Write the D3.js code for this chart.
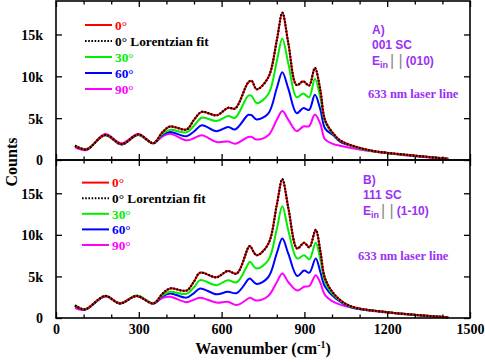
<!DOCTYPE html>
<html lang="en">
<head>
<meta charset="UTF-8">
<title>Raman spectra</title>
<style>
  body { margin: 0; background: #fff; }
  svg { display: block; }
  .tick text { font-family: "Liberation Serif", "Times New Roman", serif; font-weight: bold; font-size: 14px; fill: #000; }
  .domain { display: none; }
  .tick line { stroke: #000; stroke-width: 1.3; }
</style>
</head>
<body>
<svg id="chart" width="485" height="362"></svg>
<script src="https://d3js.org/d3.v7.min.js"></script>
<script>
// ---- data (counts in thousands) ----
const waveA = [69, 111, 178, 238, 298, 353, 385, 413, 473, 500, 528, 582, 624, 649, 697, 709, 727, 769, 800, 820, 842, 872, 896, 917, 938, 958, 975, 1005, 1029, 1089, 1150, 1270, 1421];
const redA     = [1.7, 1.28, 3.0, 1.9, 3.05, 2.0, 3.3, 4.0, 3.65, 4.8, 5.75, 5.35, 6.25, 6.15, 9.3, 9.45, 8.45, 9.85, 14.3, 17.6, 13.9, 8.95, 9.4, 8.9, 11.0, 8.3, 4.75, 3.15, 2.35, 1.55, 1.08, 0.62, 0.15];
const fitA     = [1.7, 1.28, 3.0, 1.9, 3.05, 2.0, 3.3, 4.0, 3.65, 4.8, 5.75, 5.35, 6.25, 6.15, 9.3, 9.45, 8.45, 9.85, 14.3, 17.6, 13.9, 8.95, 9.4, 8.9, 11.0, 8.3, 4.75, 3.15, 2.35, 1.55, 1.08, 0.62, 0.12];
const greenA   = [1.75, 1.3, 2.95, 1.9, 3.0, 2.0, 3.1, 3.6, 3.3, 4.1, 5.05, 4.65, 5.25, 5.05, 7.7, 7.65, 6.8, 7.85, 11.8, 14.5, 11.5, 7.5, 7.95, 7.5, 9.7, 7.4, 4.55, 3.05, 2.3, 1.5, 1.05, 0.6, 0.15];
const blueA    = [1.65, 1.25, 2.95, 1.85, 3.0, 2.0, 3.0, 3.35, 2.85, 3.4, 4.15, 3.45, 3.95, 3.65, 5.4, 5.35, 4.85, 5.55, 8.6, 10.5, 8.5, 5.6, 6.2, 6.0, 7.8, 6.0, 3.75, 2.95, 2.2, 1.5, 1.05, 0.6, 0.15];
const magentaA = [1.5, 1.2, 3.1, 2.0, 3.1, 2.0, 2.8, 3.15, 2.35, 2.6, 2.95, 2.15, 2.2, 1.95, 2.75, 2.75, 2.45, 2.95, 4.8, 5.85, 4.8, 3.45, 4.0, 4.05, 5.45, 4.3, 2.45, 1.9, 1.7, 1.3, 1.0, 0.55, 0.15];

const waveB = [69, 105, 178, 232, 292, 353, 385, 413, 473, 500, 522, 582, 622, 655, 697, 703, 727, 769, 800, 820, 842, 874, 899, 918, 941, 958, 975, 1011, 1065, 1186, 1421];
const redB     = [1.5, 1.05, 2.65, 1.75, 2.65, 1.75, 2.9, 3.55, 3.3, 4.4, 5.45, 4.9, 5.65, 5.35, 8.5, 8.65, 7.55, 8.9, 13.6, 16.7, 13.2, 8.35, 9.05, 8.5, 10.6, 8.0, 4.75, 2.75, 1.45, 0.75, 0.08];
const fitB     = [1.5, 1.05, 2.65, 1.75, 2.65, 1.75, 2.9, 3.55, 3.3, 4.4, 5.45, 4.9, 5.65, 5.35, 8.5, 8.65, 7.55, 8.9, 13.6, 16.7, 13.2, 8.35, 9.05, 8.5, 10.6, 8.0, 4.75, 2.75, 1.45, 0.75, 0.06];
const greenB   = [1.55, 1.05, 2.65, 1.75, 2.7, 1.8, 2.7, 3.15, 2.9, 3.7, 4.55, 3.95, 4.55, 4.3, 6.55, 6.75, 5.95, 6.95, 10.7, 13.45, 10.5, 7.15, 7.55, 7.05, 9.05, 7.0, 4.35, 2.6, 1.4, 0.75, 0.08];
const blueB    = [1.45, 1.0, 2.6, 1.75, 2.65, 1.75, 2.6, 2.95, 2.45, 3.0, 3.55, 2.85, 3.15, 3.0, 4.65, 4.75, 4.1, 4.9, 7.8, 9.55, 7.7, 5.05, 5.7, 5.45, 7.15, 5.5, 3.75, 2.4, 1.35, 0.75, 0.08];
const magentaB = [1.2, 1.0, 2.65, 1.8, 2.65, 1.75, 2.4, 2.55, 1.9, 2.2, 2.45, 1.85, 1.95, 1.55, 2.35, 2.45, 2.1, 2.65, 4.3, 5.35, 4.3, 3.3, 3.75, 3.85, 5.15, 4.2, 2.75, 1.85, 1.3, 0.7, 0.08];

const legendLabels = ["0°", "0° Lorentzian fit", "30°", "60°", "90°"];
const yTicks = [0, 5000, 10000, 15000];
const xLabelTicks = [0, 300, 600, 900, 1200, 1500];

// ---- layout ----
const svg = d3.select("#chart");
const left = 56, right = 470;
const panels = [
    { top: 1, bottom: 160, wave: waveA, series: [redA, greenA, blueA, magentaA], fit: fitA,
      legendX: 85, legendY: 25, legendStep: 16,
      note: { x: 372, lines: ["A)", "001 SC"], e: "(010)", y: 34, laserX: 368, laserY: 98 } },
    { top: 160, bottom: 318, wave: waveB, series: [redB, greenB, blueB, magentaB], fit: fitB,
      legendX: 82, legendY: 182.6, legendStep: 15.6,
      note: { x: 363, lines: ["B)", "111 SC"], e: "(1-10)", y: 184, laserX: 358, laserY: 260 } }
];
const colors = ["#ff0000", "#00ee00", "#0000ff", "#ff00ff"];
const noteColor = "#9b30f5";

const x = d3.scaleLinear().domain([0, 1500]).range([left, right]);
const fmt = d => d === 0 ? "0" : (d / 1000) + "k";

panels.forEach((p, pi) => {
    const y = d3.scaleLinear().domain([0, 19000]).range([p.bottom, p.top]);
    const line = d3.line()
        .x(d => x(d[0]))
        .y(d => y(d[1] * 1000))
        .curve(d3.curveCatmullRom.alpha(0.5));

    // spectra: magenta, blue, green, red, then fit on top
    [3, 2, 1, 0].forEach(i => {
        svg.append("path")
            .datum(p.wave.map((w, k) => [w, p.series[i][k]]))
            .attr("d", line)
            .attr("fill", "none")
            .attr("stroke", colors[i])
            .attr("stroke-width", 2);
    });
    svg.append("path")
        .datum(p.wave.map((w, k) => [w, p.fit[k]]))
        .attr("d", line)
        .attr("fill", "none")
        .attr("stroke", "#000")
        .attr("stroke-width", 2.2)
        .attr("stroke-dasharray", "1.6,1.6");

    // frame
    svg.append("rect")
        .attr("x", left).attr("y", p.top)
        .attr("width", right - left).attr("height", p.bottom - p.top)
        .attr("fill", "none").attr("stroke", "#000").attr("stroke-width", 1.6);

    // y axes (inward ticks)
    svg.append("g")
        .attr("transform", `translate(${left},0)`)
        .call(d3.axisLeft(y).tickValues(yTicks).tickSize(-6).tickPadding(13).tickFormat(fmt))
        .selectAll("text").attr("dy", "0.35em");
    svg.append("g")
        .attr("transform", `translate(${right},0)`)
        .call(d3.axisRight(y).tickValues(yTicks).tickSize(-6).tickFormat(""));

    // x ticks: minor every 100, major every 300
    const minor = d3.range(0, 1501, 100).filter(v => v % 300 !== 0);
    [[p.bottom, d3.axisBottom], [p.top, d3.axisTop]].forEach(([yy, ax]) => {
        svg.append("g").attr("transform", `translate(0,${yy})`)
            .call(ax(x).tickValues(minor).tickSize(-3.5).tickFormat(""));
        svg.append("g").attr("transform", `translate(0,${yy})`)
            .call(ax(x).tickValues(xLabelTicks).tickSize(-6).tickFormat(""));
    });
    if (pi === 1) {
        svg.append("g").attr("transform", `translate(0,${p.bottom})`)
            .call(d3.axisBottom(x).tickValues(xLabelTicks).tickSize(0).tickPadding(6).tickFormat(d3.format("d")));
    }

    // legend
    legendLabels.forEach((lab, i) => {
        const ly = p.legendY + i * p.legendStep;
        const col = i === 1 ? "#000" : colors[i === 0 ? 0 : i - 1];
        svg.append("line")
            .attr("x1", p.legendX).attr("x2", p.legendX + 27)
            .attr("y1", ly).attr("y2", ly)
            .attr("stroke", col)
            .attr("stroke-width", 2)
            .attr("stroke-dasharray", i === 1 ? "1.6,1.6" : null);
        svg.append("text")
            .attr("x", p.legendX + 30).attr("y", ly + 4.7)
            .attr("font-family", "Liberation Serif, Times New Roman, serif")
            .attr("font-weight", "bold").attr("font-size", 13.3)
            .attr("fill", col)
            .text(lab);
    });

    // annotation
    const n = p.note;
    const g = svg.append("g")
        .attr("font-family", "Liberation Sans, Arial, sans-serif")
        .attr("font-weight", "bold").attr("font-size", 12)
        .attr("fill", noteColor);
    n.lines.forEach((t, i) => g.append("text").attr("x", n.x).attr("y", n.y + i * 15).text(t));
    const e = g.append("text").attr("x", n.x).attr("y", n.y + 31);
    e.append("tspan").text("E");
    e.append("tspan").attr("font-size", 9).attr("dy", 3).text("in");
    e.append("tspan").attr("dy", -2).attr("fill", "#888").attr("font-weight", "normal")
        .attr("font-size", 16).attr("dx", 2).text("| |");
    e.append("tspan").attr("dy", -1).attr("dx", 3).text(n.e);
    g.append("text").attr("x", n.laserX).attr("y", n.laserY)
        .attr("font-family", "Liberation Serif, Times New Roman, serif")
        .attr("font-size", 12.5)
        .text("633 nm laser line");
});

// axis titles
svg.append("text")
    .attr("transform", "translate(17,162) rotate(-90)")
    .attr("text-anchor", "middle")
    .attr("font-family", "Liberation Serif, Times New Roman, serif")
    .attr("font-weight", "bold").attr("font-size", 16)
    .text("Counts");
const xt = svg.append("text")
    .attr("x", 263).attr("y", 354)
    .attr("text-anchor", "middle")
    .attr("font-family", "Liberation Serif, Times New Roman, serif")
    .attr("font-weight", "bold").attr("font-size", 16);
xt.append("tspan").text("Wavenumber (cm");
xt.append("tspan").attr("font-size", 10).attr("dy", -6).text("-1");
xt.append("tspan").attr("dy", 6).text(")");
</script>
</body>
</html>
